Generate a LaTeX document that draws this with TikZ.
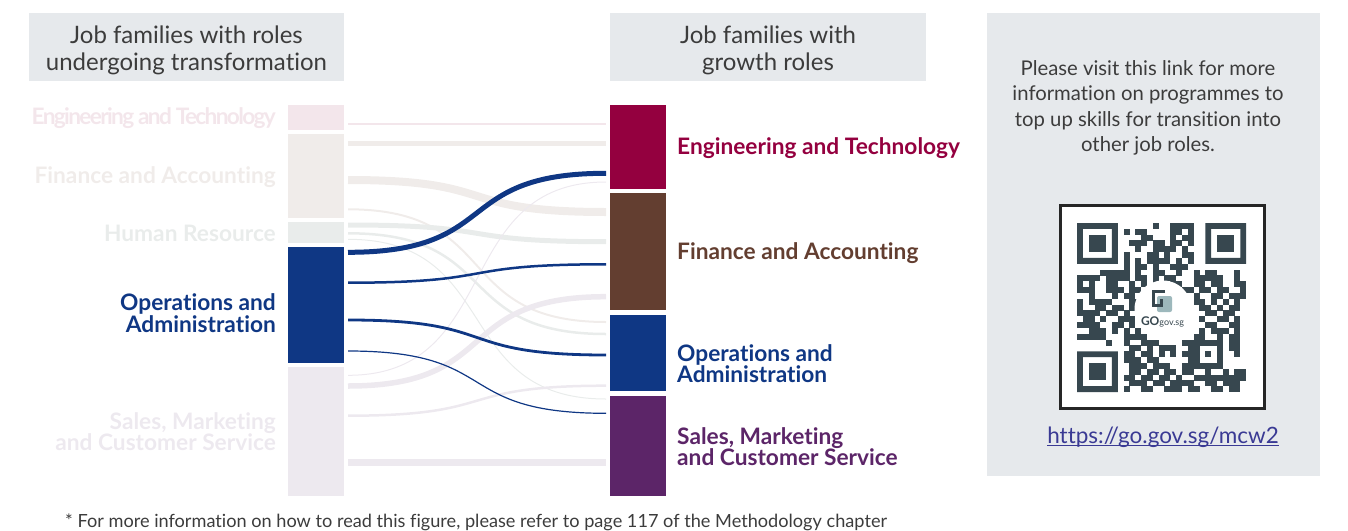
\documentclass[tikz,border=0pt]{standalone}
\usepackage{fontspec}
\setmainfont{Lato}[Ligatures=NoCommon]
\definecolor{engcol}{HTML}{94003F}
\definecolor{fincol}{HTML}{633E30}
\definecolor{opscol}{HTML}{0F3784}
\definecolor{salcol}{HTML}{5C2568}
\definecolor{englight}{HTML}{F3E6EB}
\definecolor{finlight}{HTML}{F0ECEA}
\definecolor{hrlight}{HTML}{E9ECEB}
\definecolor{sallight}{HTML}{EDE9EF}
\definecolor{panelgrey}{HTML}{E6E9EC}
\definecolor{textgrey}{HTML}{3C3C3C}
\definecolor{qrcol}{HTML}{37474F}
\definecolor{qrteal}{HTML}{9DB8BC}
\definecolor{linkcol}{HTML}{3A3A94}
\tikzset{
  panel/.style={fill=panelgrey,inner sep=0pt},
  headtext/.style={text=textgrey,align=center,font=\fontsize{24}{27}\selectfont},
  bar/.style={inner sep=0pt,minimum width=56pt},
  leftlabel/.style={anchor=east,align=right,inner sep=0pt,font=\fontsize{22.7}{21.5}\selectfont\bfseries},
  rightlabel/.style={anchor=west,align=left,inner sep=0pt,font=\fontsize{22.7}{21.5}\selectfont\bfseries},
  flow/.style={draw}
}
\begin{document}
\begin{tikzpicture}[x=1pt,y=-1pt]
  \useasboundingbox (0,0) rectangle (1348,530);
  \node[panel,minimum width=315pt,minimum height=68pt] (headleft) at (186.5,47) {};
  \node[panel,minimum width=316pt,minimum height=68pt] (headright) at (768,47) {};
  \node[panel,minimum width=333pt,minimum height=463pt] (infopanel) at (1153.5,244.5) {};
  \node[headtext] (headlefttext) at (186.5,50) {Job families with roles\\undergoing transformation};
  \node[headtext] (headrighttext) at (768,50.5) {Job families with\\growth roles};
  % left bars
  \foreach \name/\y/\h/\col in {eng/117.5/25/englight,fin/176/84/finlight,hr/232.5/21/hrlight,ops/305/116/opscol,sal/431.5/129/sallight}
    \node[bar,fill=\col,minimum height=\h pt] (l\name) at (316,\y) {};
  % right bars
  \foreach \name/\y/\h/\col in {eng/147/84/engcol,fin/251.5/117/fincol,ops/353/76/opscol,sal/446/100/salcol}
    \node[bar,fill=\col,minimum height=\h pt] (r\name) at (638,\y) {};
  % light flows first
  \foreach \name/\ya/\yb/\w/\col in {
    a/124/124/2/englight,
    b/143.3/143.3/5/finlight,
    c/180/212/8/finlight,
    d/209.3/322/2/finlight,
    e/225/241.7/5/hrlight,
    f/233.3/334/2.5/hrlight,
    g/239.3/399/1/hrlight,
    h/375.3/182/1/sallight,
    i/386/296.7/5.5/sallight,
    j/415.7/385.7/2.5/sallight,
    k/462.7/462.7/7.5/sallight,
    l/252.3/173.3/5/opscol,
    m/282.7/264.3/2.5/opscol,
    n/320/355/2.8/opscol,
    o/351/413.3/1.2/opscol}{
    \coordinate (from\name) at (348,\ya);
    \coordinate (to\name) at (606,\yb);
    \draw[flow,draw=\col,line width=\w pt] (from\name) .. controls +(155,0) and +(-155,0) .. (to\name);
  }
  % labels
  \node[leftlabel,text=englight] (tleng) at (276,118.5) {\addfontfeature{LetterSpace=-7.4}Engineering and Technology};
  \node[leftlabel,text=finlight] (tlfin) at (276,177.5) {Finance and Accounting};
  \node[leftlabel,text=hrlight] (tlhr) at (276,233.5) {Human Resource};
  \node[leftlabel,text=opscol] (tlops) at (276,313) {Operations and\\Administration};
  \node[leftlabel,text=sallight] (tlsal) at (276,431.5) {Sales, Marketing\\and Customer Service};
  \node[rightlabel,text=engcol] (treng) at (677,148.5) {Engineering and Technology};
  \node[rightlabel,text=fincol] (trfin) at (677,253.5) {Finance and Accounting};
  \node[rightlabel,text=opscol] (trops) at (677,363.5) {Operations and\\Administration};
  \node[rightlabel,text=salcol] (trsal) at (677,446.5) {Sales, Marketing\\and Customer Service};
  % panel
  \node[text=textgrey,align=center,font=\fontsize{20.3}{25.3}\selectfont] (infotext) at (1148,108) {Please visit this link for more\\information on programmes to\\top up skills for transition into\\other job roles.};
  \node[draw=black!85,line width=3pt,fill=white,minimum width=204pt,minimum height=203pt,inner sep=0pt] (qrbox) at (1162,306.5) {};
  % qr finders
  \foreach \cx/\cy in {0/0,22/0,0/22}{
    \begin{scope}[shift={(1077+5.83*\cx,223+5.83*\cy)},x=5.83pt,y=-5.83pt]
      \fill[qrcol,even odd rule] (0,0) rectangle (7,7) (1,1) rectangle (6,6);
      \fill[qrcol] (2,2) rectangle (5,5);
    \end{scope}
  }
  % qr cells, row/columns
  \begin{scope}[shift={(1077,223)},x=5.83pt,y=-5.83pt]
    \foreach \r/\cells in {
      0/{13,16,17,18,19},
      1/{8,10,11,16,17,19},
      2/{11,12,16,18,19},
      3/{9,10,11,13,14,16,17,19},
      4/{10,13,14,15,16,18},
      5/{8,12,13,15,18,19},
      6/{8,10,12,13,14,15,17,19},
      7/{8,10,11,13,16,17,18},
      8/{4,5,6,7,8,10,13,14,17,20,22,23,27},
      9/{0,1,2,3,5,6,7,8,10,11,13,15,16,20,21,22,23,24,27},
      10/{0,2,5,6,9,11,13,14,16,17,20,21,23,24,27,28},
      11/{0,1,2,5,6,7,9,10,18,19,21,22,24,25,28},
      12/{2,6,8,9,11,20,23,24,26,27,28},
      13/{0,2,3,4,5,9,10,20,21,23,25,27},
      14/{0,3,4,6,7,9,21,22,24,26,27},
      15/{0,1,2,3,5,6,8,22,23,25,26},
      16/{1,2,4,7,8,9,21,24,25,27},
      17/{0,1,2,3,6,7,9,22,23,26,27},
      18/{2,3,4,6,8,10,21,23,24,25,27},
      19/{0,1,2,3,4,8,9,10,11,20,21,24,26,27},
      20/{5,8,11,12,13,18,19,20,21,22,23,24,26,27},
      21/{9,10,12,14,15,16,19,20,24,26,27},
      22/{8,9,11,12,14,16,18,19,20,22,24,27},
      23/{8,9,10,12,13,19,20,24},
      24/{9,10,11,13,14,15,18,19,20,21,22,23,24},
      25/{9,10,12,13,15,16,18,19,22,25,27,28},
      26/{8,9,11,12,14,15,17,20,21,22,23,24,25,26,27,28},
      27/{9,10,11,13,14,16,17,18,19,22,23,25,26,27},
      28/{8,11,12,15,16,17,19,20,23,24,26,27}}{
      \foreach \c in \cells
        \fill[qrcol] (\c,\r) rectangle +(1.02,1.02);
    }
  \end{scope}
  % logo
  \node[circle,fill=white,minimum size=57pt,inner sep=0pt] (qrdisc) at (1163,309) {};
  \fill[qrteal,rounded corners=2pt] (1157,296) rectangle (1172,312);
  \draw[qrcol,line width=3pt] (1165,291.5) -- (1153.5,291.5) -- (1153.5,305.5) -- (1161,305.5) -- (1161,299);
  \node[text=qrcol,inner sep=0pt,font=\fontsize{12}{12}\selectfont\bfseries] (qrlogo) at (1162.5,322) {GO\fontsize{9}{9}\selectfont\mdseries gov.sg};
  \node[text=linkcol,inner sep=0pt,font=\fontsize{22.5}{25}\selectfont] (qrlink) at (1163,437) {https://go.gov.sg/mcw2};
  \draw[linkcol,line width=0.9pt] ([yshift=-2.5pt]qrlink.base west) -- ([yshift=-2.5pt]qrlink.base east);
  \node[text=textgrey,anchor=west,inner sep=0pt,font=\fontsize{18.15}{20}\selectfont] (footnote) at (65,522) {* For more information on how to read this figure, please refer to page 117 of the Methodology chapter};
\end{tikzpicture}
\end{document}
